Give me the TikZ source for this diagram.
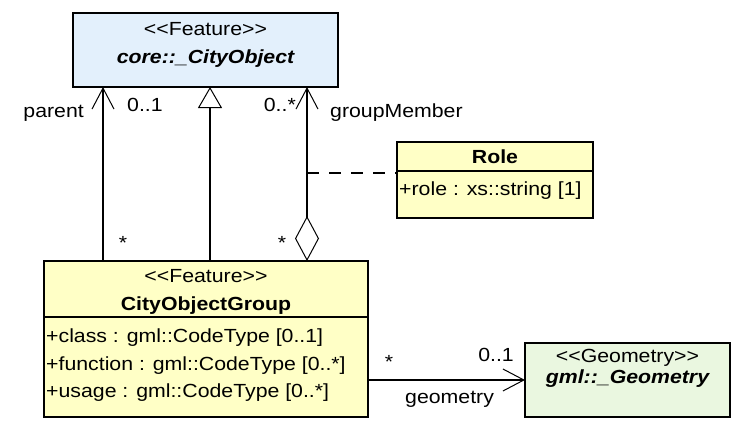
\documentclass[tikz,border=0pt]{standalone}
\usepackage{fontspec}
\setmainfont{Liberation Sans}[FakeStretch=1.12]
\usetikzlibrary{arrows.meta, calc}
\definecolor{cCore}{HTML}{E3F0FC}
\definecolor{cFeat}{HTML}{FFFFC6}
\definecolor{cGeom}{HTML}{EAF7E0}

\begin{document}
\begin{tikzpicture}[
    x=1pt, y=-1pt, font=\fontsize{19}{22}\selectfont,
    cls/.style={draw=black, line width=1.8pt, inner sep=0pt, outer sep=0pt},
    sep/.style={line width=1.8pt},
    txt/.style={inner sep=0pt, anchor=base},
    lbl/.style={inner sep=0pt},
    assoc/.style={line width=1.8pt},
    barb/.style={-{Straight Barb[length=21pt, width=22pt, line width=1pt]}},
    gen/.style={-{Triangle[open, length=21pt, width=24pt, line width=1pt]}},
    agg/.style={{Diamond[open, length=45pt, width=24pt, line width=1pt]}-{Straight Barb[length=21pt, width=22pt, line width=1pt]}},
    note/.style={line width=1.8pt, dash pattern=on 12pt off 10pt},
]
\useasboundingbox (0,0) rectangle (739,426);

% ===========================================================================
% Clases
% ===========================================================================
% ----- core::_CityObject -----
\node[cls, fill=cCore, minimum width=265pt, minimum height=74pt] (core) at (205.5,50) {};
\node[txt] (coreSt) at (205.5,35.5) {<{}<Feature>{}>};
\node[txt] (coreName) at (205.5,63) {\bfseries\itshape core::\_CityObject};

% ----- CityObjectGroup -----
\node[cls, fill=cFeat, minimum width=324pt, minimum height=156pt] (group) at (206,339) {};
\draw[sep] ($(group.north west)+(0,56)$) -- ($(group.north east)+(0,56)$);
\node[txt] (groupSt) at (206,282) {<{}<Feature>{}>};
\node[txt] (groupName) at (206,310) {\bfseries CityObjectGroup};
\node[txt, anchor=base west] (attClass) at (46,342) {+class : gml::CodeType [0..1]};
\node[txt, anchor=base west] (attFunc) at (46,370) {+function : gml::CodeType [0..*]};
\node[txt, anchor=base west] (attUsage) at (46,397) {+usage : gml::CodeType [0..*]};

% ----- Role -----
\node[cls, fill=cFeat, minimum width=196pt, minimum height=76pt] (role) at (495,180) {};
\draw[sep] ($(role.north west)+(0,29)$) -- ($(role.north east)+(0,29)$);
\node[txt] (roleName) at (495,163) {\bfseries Role};
\node[txt, anchor=base west] (attRole) at (399,195) {+role : xs::string [1]};

% ----- gml::_Geometry -----
\node[cls, fill=cGeom, minimum width=205pt, minimum height=74pt] (geom) at (627.5,380) {};
\node[txt] (geomSt) at (627.5,362) {<{}<Geometry>{}>};
\node[txt] (geomName) at (627.5,383) {\bfseries\itshape gml::\_Geometry};

% ===========================================================================
% Relaciones
% ===========================================================================
\coordinate (xPar) at (103,0);
\coordinate (xGen) at (210,0);
\coordinate (xMem) at (307,0);

% ----- parent -----
\draw[assoc, barb] (xPar |- group.north) -- (xPar |- core.south);
\node[lbl, anchor=base east] (lParent) at (84,117) {parent};
\node[lbl, anchor=base west] (lParMul) at (127,111) {0..1};
\node[lbl, anchor=base] (lParStar) at (123,249) {*};

% ----- generalizacion -----
\draw[assoc, gen] (xGen |- group.north) -- (xGen |- core.south);

% ----- groupMember -----
\draw[assoc, agg] (xMem |- group.north) -- (xMem |- core.south);
\node[lbl, anchor=base east] (lMemMul) at (296,111) {0..*};
\node[lbl, anchor=base west] (lMember) at (330,117) {groupMember};
\node[lbl, anchor=base] (lMemStar) at (282,249) {*};

\coordinate (roleJoin) at (307,173);
\draw[note] (roleJoin) -- (roleJoin -| role.west);

% ----- geometry -----
\draw[assoc, barb] (geom.west -| group.east) -- (geom.west);
\node[lbl, anchor=base] (lGeoStar) at (389,368) {*};
\node[lbl, anchor=base east] (lGeoMul) at (514,361) {0..1};
\node[lbl, anchor=base west] (lGeometry) at (405,403) {geometry};

\end{tikzpicture}
\end{document}
